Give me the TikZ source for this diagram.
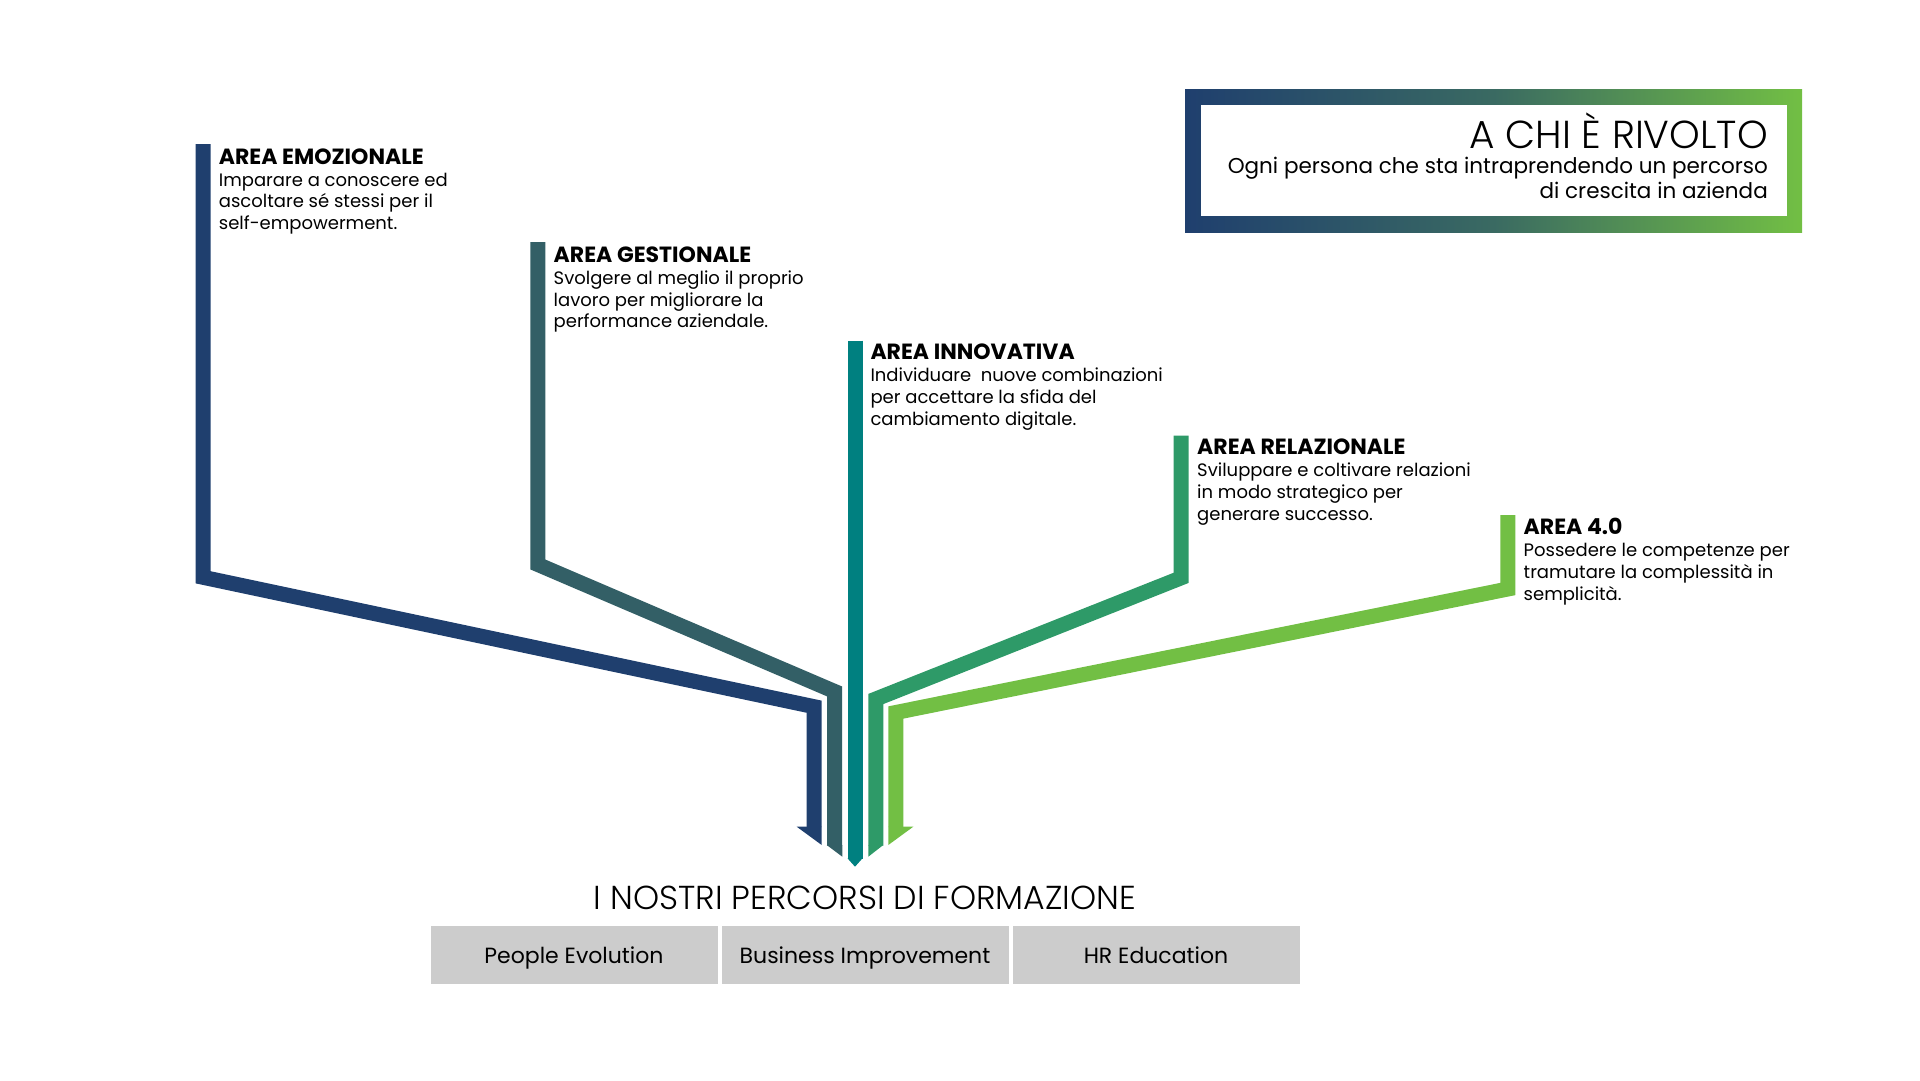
\documentclass[tikz,border=0pt]{standalone}
\usepackage{fontspec}
\setmainfont{Poppins}
\IfFontExistsTF{Poppins Light}{\newfontfamily\poplight{Poppins Light}}{\newfontfamily\poplight{Poppins}}
\definecolor{cA}{HTML}{1F3F6E}
\definecolor{cB}{HTML}{335F66}
\definecolor{cC}{HTML}{008080}
\definecolor{cD}{HTML}{2E9A68}
\definecolor{cE}{HTML}{72BF44}
\definecolor{cMid}{HTML}{3A6A62}
\definecolor{boxgrey}{HTML}{CCCCCC}
\begin{document}
\begin{tikzpicture}[x=1pt,y=-1pt,
  bar/.style={line width=15pt, line join=miter, miter limit=20},
  areatitle/.style={font=\fontsize{22}{26}\selectfont\bfseries, anchor=base west, inner sep=0pt},
  areabody/.style={font=\fontsize{18}{21.7}\selectfont, align=left, anchor=base west, inner sep=0pt},
  course/.style={fill=boxgrey, minimum width=287pt, minimum height=58pt, inner sep=0pt,
                 text height=20pt, text depth=3pt, font=\fontsize{22}{26}\selectfont}]
\useasboundingbox (0,0) rectangle (1920,1080);

% ---- bars (named coordinates) ----
\coordinate (a1) at (203.2,144);   \coordinate (a2) at (203.2,577.3);
\coordinate (a3) at (814.2,706.7); \coordinate (a4) at (814.2,827.2);
\coordinate (b1) at (537.9,242);   \coordinate (b2) at (537.9,564.5);
\coordinate (b3) at (834.5,691.4); \coordinate (b4) at (834.5,845.5);
\coordinate (c1) at (855,340.5);   \coordinate (c4) at (855,858.8);
\coordinate (d1) at (1181.2,435.5);\coordinate (d2) at (1181.2,577.8);
\coordinate (d3) at (875.8,699);   \coordinate (d4) at (875.8,845.5);
\coordinate (e1) at (1507.8,515);  \coordinate (e2) at (1507.8,589);
\coordinate (e3) at (895.8,712.5); \coordinate (e4) at (895.8,827.2);

\draw[bar, cA] (a1) -- (a2) -- (a3) -- (a4);
\fill[cA] (796.7,826.7) -- (821.7,826.7) -- (821.7,845) -- cycle;
\draw[bar, cB] (b1) -- (b2) -- (b3) -- (b4);
\fill[cB] (826.7,845) -- (842.3,845) -- (842.3,856.7) -- cycle;
\draw[bar, cC] (c1) -- (c4);
\fill[cC] (847.5,858.3) -- (862.5,858.3) -- (855,866.7) -- cycle;
\draw[bar, cD] (d1) -- (d2) -- (d3) -- (d4);
\fill[cD] (868.3,845) -- (883.3,845) -- (868.3,856.7) -- cycle;
\draw[bar, cE] (e1) -- (e2) -- (e3) -- (e4);
\fill[cE] (888.3,826.7) -- (913.3,826.7) -- (888.3,845) -- cycle;

% ---- area texts (body anchored at its last baseline) ----
\node[areatitle] (t1) at (218.7,164.3) {AREA EMOZIONALE};
\node[areabody] (s1) at (218.7,229.4) {Imparare a conoscere ed\\ascoltare sé stessi per il\\self-empowerment.};
\node[areatitle] (t2) at (553.5,262) {AREA GESTIONALE};
\node[areabody] (s2) at (553.5,327.7) {Svolgere al meglio il proprio\\lavoro per migliorare la\\performance aziendale.};
\node[areatitle] (t3) at (870.3,359.5) {AREA INNOVATIVA};
\node[areabody] (s3) at (870.3,425) {Individuare\ \ nuove combinazioni\\per accettare la sfida del\\cambiamento digitale.};
\node[areatitle] (t4) at (1197,454.5) {AREA RELAZIONALE};
\node[areabody] (s4) at (1197,520) {Sviluppare e coltivare relazioni\\in modo strategico per\\generare successo.};
\node[areatitle] (t5) at (1523.5,534.5) {AREA 4.0};
\node[areabody] (s5) at (1523.5,600.2) {Possedere le competenze per\\tramutare la complessità in\\semplicità.};

% ---- top-right frame ----
\shade[left color=cA, right color=cE, middle color=cMid] (1185,89) rectangle (1802,232);
\fill[white] (1201,105) rectangle (1787,216);
\node[anchor=base east, inner sep=0pt, font=\poplight\fontsize{39}{42}\selectfont] (who) at (1768,148) {A CHI È RIVOLTO};
\node[anchor=base east, inner sep=0pt, align=right, font=\fontsize{21.5}{24.5}\selectfont] (whodesc) at (1768,198) {Ogni persona che sta intraprendendo un percorso\\di crescita in azienda};

% ---- bottom ----
\node[anchor=base, inner sep=0pt, font=\poplight\fontsize{33.2}{36}\selectfont] (percorsi) at (865,909) {I NOSTRI PERCORSI DI FORMAZIONE};
\node[course] (pe) at (574,955) {People Evolution};
\node[course] (bi) at (865,955) {Business Improvement};
\node[course] (hr) at (1156,955) {HR Education};
\end{tikzpicture}
\end{document}
